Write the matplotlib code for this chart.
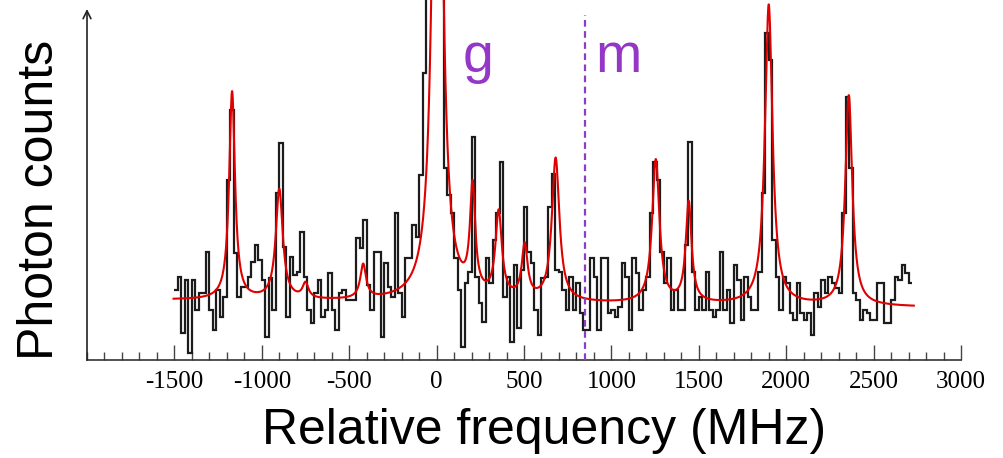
import numpy as np
import matplotlib.pyplot as plt
from matplotlib.ticker import MultipleLocator

plt.rcParams['axes.unicode_minus'] = False

# histogram of photon counts, 20 MHz bins starting at -1500 MHz
bin_start = -1500
bin_width = 20
counts = [
    7.0, 8.3, 2.7, 8.0, 0.7, 8.0, 5.0, 6.7, 6.7, 10.8,
    5.0, 3.0, 7.0, 4.3, 6.3, 18.0, 25.0, 10.7, 6.3, 7.3,
    7.3, 8.3, 9.8, 11.5, 10.0, 8.0, 2.3, 8.2, 5.0, 16.7,
    21.7, 11.3, 4.3, 10.3,
    8.5, 8.8, 12.8, 8.3, 5.0, 3.7, 6.7, 8.0, 4.3, 5.0,
    8.7, 5.0, 3.0, 6.7, 7.0, 6.0, 6.0, 6.0, 12.2, 11.2,
    14.0, 7.5, 5.0, 10.8, 10.8, 2.3, 9.7, 7.3, 6.3, 14.7,
    6.7, 4.3, 10.2, 10.2, 13.5, 12.3, 18.5,
    28.7, 45.0, 60.0, 70.0, 66.0, 50.0, 19.2, 16.5, 14.7, 10.2,
    7.0, 1.3, 7.7, 8.8, 22.3, 8.3, 5.7, 3.8, 10.2, 7.7,
    12.0, 14.7, 19.8, 6.3, 8.3, 1.8, 9.5, 3.2, 9.0, 15.3,
    10.8, 9.7, 5.0, 2.5, 8.2, 8.3, 15.3,
    18.6, 9.0, 8.8, 7.0, 5.0, 8.3, 5.0, 7.7, 4.7, 3.0,
    3.0, 10.2, 8.3, 3.0, 10.2, 10.2, 4.7, 5.0, 4.3, 5.3,
    9.7, 8.3, 3.0, 10.2, 8.7, 5.0, 7.0, 8.3, 14.7, 19.8,
    18.0, 10.8, 7.7, 10.2, 5.0, 7.0,
    5.0, 5.0, 11.5, 21.8, 8.8, 5.0, 6.3, 5.0, 8.8, 5.0,
    4.3, 5.0, 10.8, 5.0, 7.0, 3.7, 9.5, 8.0, 4.0, 8.3,
    6.3, 5.0, 5.0, 8.8, 16.7, 32.7, 30.0, 12.0, 8.3, 5.0,
    8.3, 7.7, 4.7, 4.0, 7.7, 4.7, 4.0,
    4.7, 2.5, 6.7, 5.3, 8.0, 6.7, 8.3, 7.7, 7.2, 6.7,
    14.7, 26.3, 19.2, 6.7, 6.0, 4.0, 5.0, 4.7, 4.0, 4.0,
    7.7, 7.7, 3.7, 3.7, 6.0, 8.3, 8.0, 9.5, 8.7, 7.7,
]

# Lorentzian fit: line centres (MHz), amplitudes, half widths
peak_pos = [-1170, -900, -750, -420, 5, 206, 355, 504, 681, 1254, 1442, 1900, 2358]
peak_amp = [20.8, 11.0, 1.5, 3.4, 80.0, 10.5, 8.5, 5.3, 14.3, 14.3, 10.0, 30.0, 21.0]
peak_hwhm = [20, 24, 20, 20, 28, 18, 22, 20, 26, 25, 20, 26, 24]
base_left, base_right = 6.0, 5.3
fit_lo, fit_hi = -1505, 2730

split_freq = 847


def fit_curve(f):
    y = base_left + (base_right - base_left) * (f - fit_lo) / (fit_hi - fit_lo)
    for c, a, g in zip(peak_pos, peak_amp, peak_hwhm):
        y = y + a * g**2 / ((f - c)**2 + g**2)
    return y


fig = plt.figure(figsize=(10.04, 4.58), dpi=100)
ax = fig.add_axes([87/1004, 98/458, (961-87)/1004, 360/458])

edges = bin_start + bin_width * np.arange(len(counts) + 1)
ax.stairs(counts, edges, baseline=None, color='#1c1c1c', lw=1.6, zorder=2)

f = np.linspace(fit_lo, fit_hi, 4000)
ax.plot(f, fit_curve(f), color='#e00000', lw=1.5, zorder=3)

ax.vlines(split_freq, 0, 34.5, colors='#8b3cc8', linestyles=(0, (3, 2)), lw=1.6, zorder=4)
ax.text(235, 28.8, 'g', color='#9437c6', fontsize=40, ha='center', va='baseline',
        family='Liberation Sans')
ax.text(1042, 28.8, 'm', color='#9437c6', fontsize=40, ha='center', va='baseline',
        family='Liberation Sans')

ax.set_xlim(-2000, 3000)
ax.set_ylim(0, 36)
ax.set_xticks(np.arange(-1500, 3001, 500))
ax.xaxis.set_minor_locator(MultipleLocator(100))
ax.set_yticks([])
for s in ['top', 'right', 'left']:
    ax.spines[s].set_visible(False)
ax.spines['bottom'].set_color('#333333')
ax.spines['bottom'].set_linewidth(1.2)
ax.tick_params(axis='x', which='major', direction='in', length=11, width=1, color='#444444',
               labelsize=18, pad=8)
ax.tick_params(axis='x', which='minor', direction='in', length=6, width=1, color='#444444')
for lab in ax.get_xticklabels():
    lab.set_fontfamily('Liberation Serif')

# y axis drawn as an arrow
ax.annotate('', xy=(0, 0.975), xytext=(0, 0), xycoords='axes fraction',
            arrowprops=dict(arrowstyle='->', color='#222222', lw=1.2,
                            shrinkA=0, shrinkB=0, mutation_scale=14))

fig.text(544/1004, 14/458, 'Relative frequency (MHz)', fontsize=36, ha='center',
         va='baseline', family='Liberation Sans')
fig.text(40/1004, 1 - 200/458, 'Photon counts', fontsize=36, rotation=90, ha='center',
         va='center', family='Liberation Sans')

fig.savefig('out.png', dpi=100)
